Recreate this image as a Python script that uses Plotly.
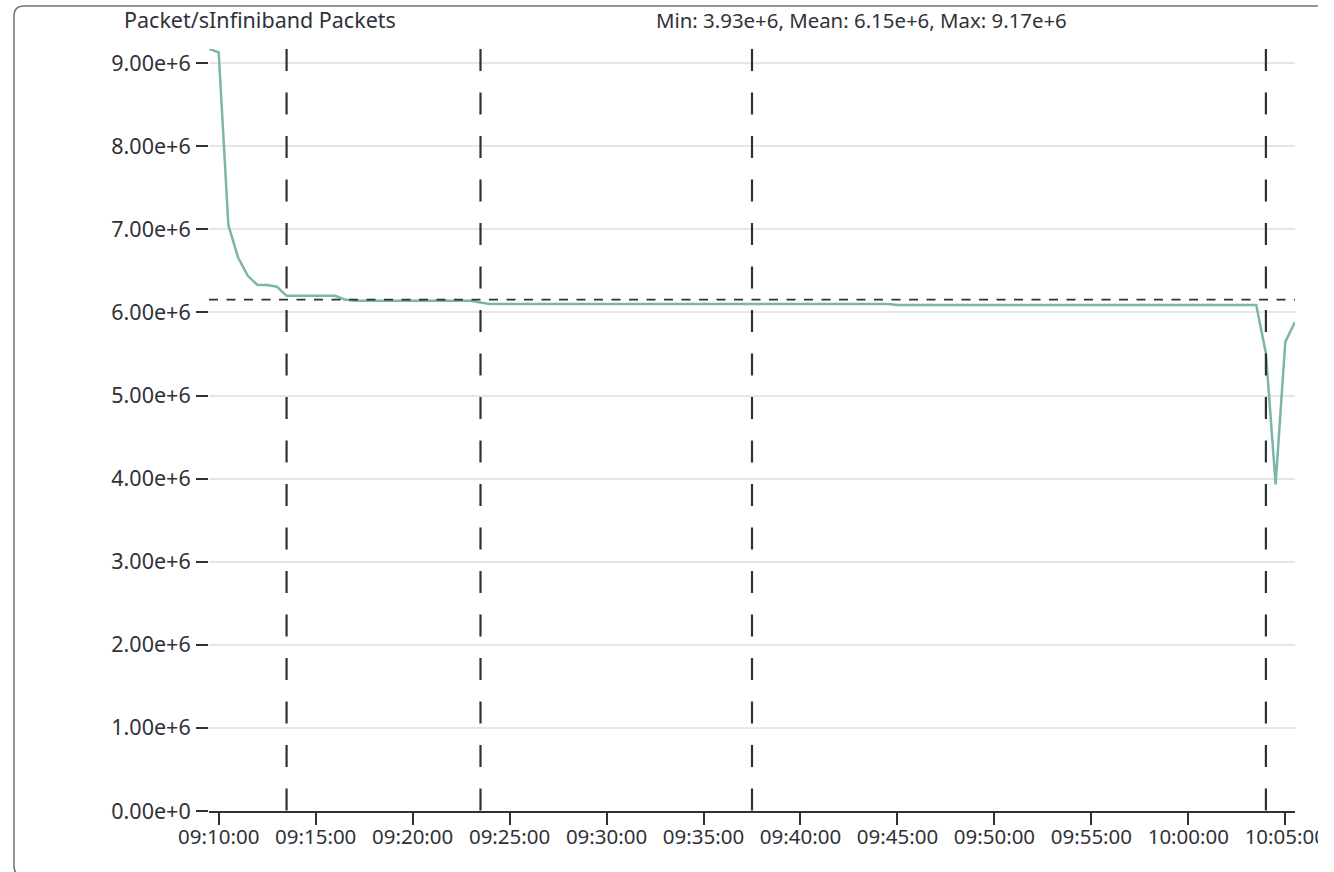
import plotly.graph_objects as go
import pandas as pd

# ---------------- data ----------------
start_time = "2024-01-15 09:09:30"
sample_step = "30s"
packets = [
    9.17e6, 9.13e6, 7.05e6, 6.66e6, 6.44e6, 6.33e6, 6.33e6, 6.31e6,          # 09:09:30 - 09:13:00
    6.20e6, 6.20e6, 6.20e6, 6.20e6, 6.20e6, 6.20e6,                          # 09:13:30 - 09:16:00
    6.155e6,                                                                 # 09:16:30
    6.14e6, 6.14e6, 6.14e6, 6.14e6, 6.14e6, 6.14e6, 6.14e6, 6.14e6,          # 09:17:00 - 09:20:30
    6.14e6, 6.14e6, 6.14e6, 6.14e6, 6.14e6,                                  # 09:21:00 - 09:23:00
    6.12e6,                                                                  # 09:23:30
    6.10e6, 6.10e6, 6.10e6, 6.10e6, 6.10e6, 6.10e6, 6.10e6, 6.10e6, 6.10e6, 6.10e6,  # 09:24 - 09:28:30
    6.10e6, 6.10e6, 6.10e6, 6.10e6, 6.10e6, 6.10e6, 6.10e6, 6.10e6, 6.10e6, 6.10e6,  # 09:29 - 09:33:30
    6.10e6, 6.10e6, 6.10e6, 6.10e6, 6.10e6, 6.10e6, 6.10e6, 6.10e6, 6.10e6, 6.10e6,  # 09:34 - 09:38:30
    6.10e6, 6.10e6, 6.10e6, 6.10e6, 6.10e6, 6.10e6, 6.10e6, 6.10e6, 6.10e6, 6.10e6,  # 09:39 - 09:43:30
    6.10e6, 6.10e6,                                                          # 09:44 - 09:44:30
    6.09e6, 6.09e6, 6.09e6, 6.09e6, 6.09e6, 6.09e6, 6.09e6, 6.09e6, 6.09e6, 6.09e6,  # 09:45 - 09:49:30
    6.09e6, 6.09e6, 6.09e6, 6.09e6, 6.09e6, 6.09e6, 6.09e6, 6.09e6, 6.09e6, 6.09e6,  # 09:50 - 09:54:30
    6.09e6, 6.09e6, 6.09e6, 6.09e6, 6.09e6, 6.09e6, 6.09e6, 6.09e6, 6.09e6, 6.09e6,  # 09:55 - 09:59:30
    6.09e6, 6.09e6, 6.09e6, 6.09e6, 6.09e6, 6.09e6, 6.09e6, 6.09e6,          # 10:00 - 10:03:30
    5.51e6, 3.93e6, 5.645e6, 5.885e6,                                        # 10:04:00 - 10:05:30
]
marker_times = ["09:13:30", "09:23:30", "09:37:30", "10:04:00"]
chart_title = "Packet/sInfiniband Packets"
y_ticks = [0, 1e6, 2e6, 3e6, 4e6, 5e6, 6e6, 7e6, 8e6, 9e6]
x_tick_start = "2024-01-15 09:10:00"
x_tick_step_ms = 5 * 60 * 1000

times = pd.date_range(start=start_time, periods=len(packets), freq=sample_step)
day = "2024-01-15 "

# ---------------- stats ----------------
def d3e(v):
    m, e = f"{v:.2e}".split("e")
    e = int(e)
    return f"{m}e{'+' if e >= 0 else '-'}{abs(e)}"

vmin, vmax = min(packets), max(packets)
vmean = sum(packets) / len(packets)
stats_text = f"Min: {d3e(vmin)}, Mean: {d3e(vmean)}, Max: {d3e(vmax)}"

# ---------------- layout geometry ----------------
W, H = 1318, 872
ML, MR, MT, MB = 209, 23, 49, 61
PW, PH = W - ML - MR, H - MT - MB

def xp(px):
    return (px - ML) / PW

def yp(py):
    return (H - MB - py) / PH

FONT = "Noto Sans, Open Sans, sans-serif"
FS = 21
TXT = "#2f3238"
DARK = "#2e3138"

fig = go.Figure()
fig.add_trace(go.Scatter(
    x=times, y=packets, mode="lines",
    line=dict(color="#7db5a9", width=2.5),
    hoverinfo="x+y", showlegend=False,
))

shapes = []
# frame
frame_path = (
    f"M {xp(1345)},{yp(876)} L {xp(24)},{yp(876)} "
    f"Q {xp(14)},{yp(876)} {xp(14)},{yp(866)} "
    f"L {xp(14)},{yp(16)} Q {xp(14)},{yp(6)} {xp(24)},{yp(6)} "
    f"L {xp(1345)},{yp(6)}"
)
shapes.append(dict(type="path", xref="paper", yref="paper", path=frame_path,
                   line=dict(color="#70747b", width=1.5), layer="below"))
# vertical dashed markers
for t in marker_times:
    shapes.append(dict(type="line", xref="x", yref="paper",
                       x0=day + t, x1=day + t, y0=1, y1=0,
                       line=dict(color=DARK, width=2.2, dash="22px,21.5px")))
# mean line
shapes.append(dict(type="line", xref="paper", yref="y",
                   x0=0, x1=1, y0=vmean, y1=vmean,
                   line=dict(color=DARK, width=1.8, dash="9px,8.5px")))

annotations = [
    dict(text=chart_title, xref="paper", yref="paper", x=xp(260), y=yp(20),
         xanchor="center", yanchor="middle", showarrow=False,
         font=dict(family=FONT, size=FS + 0.5, color=TXT)),
    dict(text=stats_text, xref="paper", yref="paper", x=xp(861.5), y=yp(20),
         xanchor="center", yanchor="middle", showarrow=False,
         font=dict(family=FONT, size=FS - 0.6, color=TXT)),
]

fig.update_layout(
    width=W, height=H,
    margin=dict(l=ML, r=MR, t=MT, b=MB, pad=0, autoexpand=False),
    paper_bgcolor="white", plot_bgcolor="white",
    font=dict(family=FONT, size=FS, color=TXT),
    shapes=shapes, annotations=annotations,
    showlegend=False,
    xaxis=dict(
        type="date",
        range=[times[0], times[-1]],
        tickformat="%H:%M:%S",
        tick0=x_tick_start, dtick=x_tick_step_ms,
        ticks="outside", ticklen=12, tickwidth=2, tickcolor=DARK,
        showline=True, linecolor=DARK, linewidth=2,
        showgrid=False, zeroline=False,
        ticklabeloverflow="allow", automargin=False,
        ticklabelstandoff=-6,
        tickfont=dict(family=FONT, size=FS - 0.5, color=TXT),
    ),
    yaxis=dict(
        range=[0, vmax],
        tickvals=y_ticks, tickformat=".2e",
        ticks="outside", ticklen=12, tickwidth=2, tickcolor=DARK,
        showline=False, zeroline=False, automargin=False,
        ticklabelstandoff=1,
        showgrid=True, gridcolor="#e6e6e6", gridwidth=2,
        tickfont=dict(family=FONT, size=FS + 0.5, color=TXT),
    ),
)

fig.write_html("out.html", config={"displayModeBar": False},
               post_script="document.body.style.margin='0px';")
